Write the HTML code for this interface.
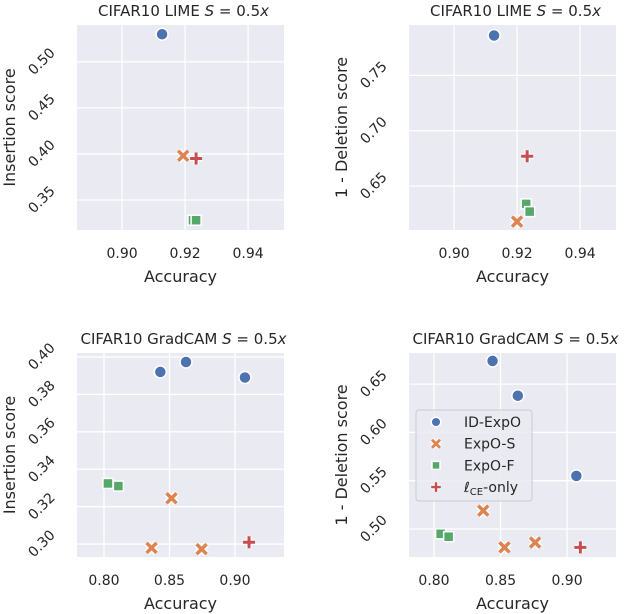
<!DOCTYPE html>
<html><head><meta charset="utf-8"><style>
body{margin:0;background:#fff;}
svg{display:block;font-family:"DejaVu Sans","Liberation Sans",sans-serif;}
</style></head><body>
<svg id="fig" width="626" height="614" viewBox="0 0 626 614"></svg>
<script>
// Panel 1: CIFAR10 LIME insertion
const p1Acc = {idexpo:[0.9127], expos:[0.9194], expof:[0.9225,0.9235], ce:[0.9235]};
const p1Val = {idexpo:[0.530], expos:[0.398], expof:[0.328,0.328], ce:[0.395]};
const p1XTicks = [0.90,0.92,0.94];
const p1XTickLabels = ["0.90","0.92","0.94"];
const p1YTicks = [0.35,0.40,0.45,0.50];
const p1YTickLabels = ["0.35","0.40","0.45","0.50"];
// Panel 2: CIFAR10 LIME deletion
const p2Acc = {idexpo:[0.9127], expos:[0.920], expof:[0.9229,0.924], ce:[0.9232]};
const p2Val = {idexpo:[0.786], expos:[0.618], expof:[0.634,0.627], ce:[0.677]};
const p2XTicks = [0.90,0.92,0.94];
const p2XTickLabels = ["0.90","0.92","0.94"];
const p2YTicks = [0.65,0.70,0.75];
const p2YTickLabels = ["0.65","0.70","0.75"];
// Panel 3: CIFAR10 GradCAM insertion
const p3Acc = {idexpo:[0.843,0.8626,0.9076], expos:[0.8515,0.8363,0.8745], expof:[0.803,0.811], ce:[0.9107]};
const p3Val = {idexpo:[0.392,0.3973,0.389], expos:[0.3245,0.298,0.2973], expof:[0.3324,0.331], ce:[0.301]};
const p3XTicks = [0.80,0.85,0.90];
const p3XTickLabels = ["0.80","0.85","0.90"];
const p3YTicks = [0.30,0.32,0.34,0.36,0.38,0.40];
const p3YTickLabels = ["0.30","0.32","0.34","0.36","0.38","0.40"];
// Panel 4: CIFAR10 GradCAM deletion
const p4Acc = {idexpo:[0.844,0.863,0.907], expos:[0.837,0.853,0.876], expof:[0.805,0.811], ce:[0.910]};
const p4Val = {idexpo:[0.674,0.638,0.555], expos:[0.519,0.481,0.486], expof:[0.495,0.492], ce:[0.481]};
const p4XTicks = [0.80,0.85,0.90];
const p4XTickLabels = ["0.80","0.85","0.90"];
const p4YTicks = [0.50,0.55,0.60,0.65];
const p4YTickLabels = ["0.50","0.55","0.60","0.65"];

const NS="http://www.w3.org/2000/svg";
const svg=document.getElementById('fig');
const COL={idexpo:'#4C72B0',expos:'#DD8452',expof:'#55A868',ce:'#C44E52'};
function mk(tag,attrs,parent){const e=document.createElementNS(NS,tag);for(const k in attrs)e.setAttribute(k,attrs[k]);(parent||svg).appendChild(e);return e;}

function marker(g,kind,cx,cy,s){
  let e;
  if(kind==='idexpo'){e=mk('circle',{cx:cx,cy:cy,r:6*s,fill:COL.idexpo,stroke:'#fff','stroke-width':1.5},g);}
  else if(kind==='expof'){e=mk('rect',{x:cx-5*s,y:cy-5*s,width:10*s,height:10*s,fill:COL.expof,stroke:'#fff','stroke-width':1.5},g);}
  else if(kind==='expos'){
    const a=5*s;
    e=mk('path',{d:`M${cx-a},${cy-a}L${cx+a},${cy+a}M${cx+a},${cy-a}L${cx-a},${cy+a}`,stroke:'#fff','stroke-width':6.5*s,fill:'none'},g);
    mk('path',{d:`M${cx-a},${cy-a}L${cx+a},${cy+a}M${cx+a},${cy-a}L${cx-a},${cy+a}`,stroke:COL.expos,'stroke-width':3.5*s,fill:'none'},g);
  } else {
    const a=6*s;
    e=mk('path',{d:`M${cx-a},${cy}L${cx+a},${cy}M${cx},${cy-a}L${cx},${cy+a}`,stroke:'#fff','stroke-width':5.5*s,fill:'none'},g);
    mk('path',{d:`M${cx-a},${cy}L${cx+a},${cy}M${cx},${cy-a}L${cx},${cy+a}`,stroke:COL.ce,'stroke-width':3*s,fill:'none'},g);
  }
  return e;
}

function panel(o){
  const g=mk('g',{});
  
  
  const xs=v=>o.L+(v-o.x0)/(o.x1-o.x0)*(o.R-o.L);
  const ys=v=>o.B-(v-o.y0)/(o.y1-o.y0)*(o.B-o.T);
  const bg=mk('rect',{x:o.L,y:o.T,width:o.R-o.L,height:o.B-o.T,fill:'#EAEAF2'},g);
  
  
  o.xt.forEach((t,i)=>{
    const x=xs(t);
    mk('line',{x1:x,x2:x,y1:o.T,y2:o.B,stroke:'#fff','stroke-width':1.3},g);
    const tx=mk('text',{x:x,y:o.B+28,'text-anchor':'middle','font-size':14,fill:'#262626'},g);
    tx.textContent=o.xl[i];
    
    
  });
  o.yt.forEach((t,i)=>{
    const y=ys(t);
    mk('line',{x1:o.L,x2:o.R,y1:y,y2:y,stroke:'#fff','stroke-width':1.3},g);
    const tx=mk('text',{x:0,y:0,'text-anchor':'middle','dominant-baseline':'central','font-size':14,fill:'#262626',transform:`translate(${o.L-35},${y}) rotate(-45)`},g);
    tx.textContent=o.yl[i];
    
    
  });
  const ttl=mk('text',{x:(o.L+o.R)/2+3,y:o.T-9,'text-anchor':'middle','font-size':15,fill:'#262626'},g);
  ttl.innerHTML=o.title+' <tspan font-style="italic">S</tspan> = 0.5<tspan font-style="italic">x</tspan>';
  
  
  const xl=mk('text',{x:(o.L+o.R)/2,y:o.B+52,'text-anchor':'middle','font-size':16,fill:'#262626'},g);
  xl.textContent='Accuracy';
  
  
  const yl=mk('text',{x:0,y:0,'text-anchor':'middle','font-size':16,fill:'#262626',transform:`translate(${o.L-62},${(o.T+o.B)/2}) rotate(-90)`},g);
  yl.textContent=o.ylabel;
  
  
  ['idexpo','expos','expof','ce'].forEach(k=>{
    o.acc[k].forEach((a,i)=>{
      const m=marker(g,k,xs(a),ys(o.val[k][i]),1);
      
      
    });
  });
  return g;
}

panel({name:'panel-lime-insertion',L:77,R:284,T:25,B:230,x0:0.8857,x1:0.9514,y0:0.3174,y1:0.540,xt:p1XTicks,xl:p1XTickLabels,yt:p1YTicks,yl:p1YTickLabels,title:'CIFAR10 LIME',ylabel:'Insertion score',acc:p1Acc,val:p1Val});
panel({name:'panel-lime-deletion',L:409,R:616,T:25,B:230,x0:0.8857,x1:0.9514,y0:0.6104,y1:0.7955,xt:p2XTicks,xl:p2XTickLabels,yt:p2YTicks,yl:p2YTickLabels,title:'CIFAR10 LIME',ylabel:'1 - Deletion score',acc:p2Acc,val:p2Val});
panel({name:'panel-gradcam-insertion',L:77,R:284,T:353,B:557,x0:0.7794,x1:0.9374,y0:0.2931,y1:0.4021,xt:p3XTicks,xl:p3XTickLabels,yt:p3YTicks,yl:p3YTickLabels,title:'CIFAR10 GradCAM',ylabel:'Insertion score',acc:p3Acc,val:p3Val});
panel({name:'panel-gradcam-deletion',L:409,R:616,T:353,B:557,x0:0.7812,x1:0.9368,y0:0.4710,y1:0.6822,xt:p4XTicks,xl:p4XTickLabels,yt:p4YTicks,yl:p4YTickLabels,title:'CIFAR10 GradCAM',ylabel:'1 - Deletion score',acc:p4Acc,val:p4Val});

// Legend
const lg=mk('g',{});


mk('rect',{x:416,y:410,width:116,height:91,rx:3,fill:'#EAEAF2','fill-opacity':0.85,stroke:'#cccccc','stroke-width':1},lg);
const legItems=[['idexpo','ID-ExpO'],['expos','ExpO-S'],['expof','ExpO-F'],['ce','']];
legItems.forEach((it,i)=>{
  const y=422+i*21.7;
  const le=mk('g',{},lg);
  
  
  marker(le,it[0],436,y,0.8);
  const t=mk('text',{x:464,y:y+5,'font-size':14,fill:'#262626'},le);
  if(it[0]==='ce') t.innerHTML='<tspan font-style="italic">ℓ</tspan><tspan font-size="10" dy="3">CE</tspan><tspan dy="-3">-only</tspan>';
  else t.textContent=it[1];
});
</script>
</body></html>
